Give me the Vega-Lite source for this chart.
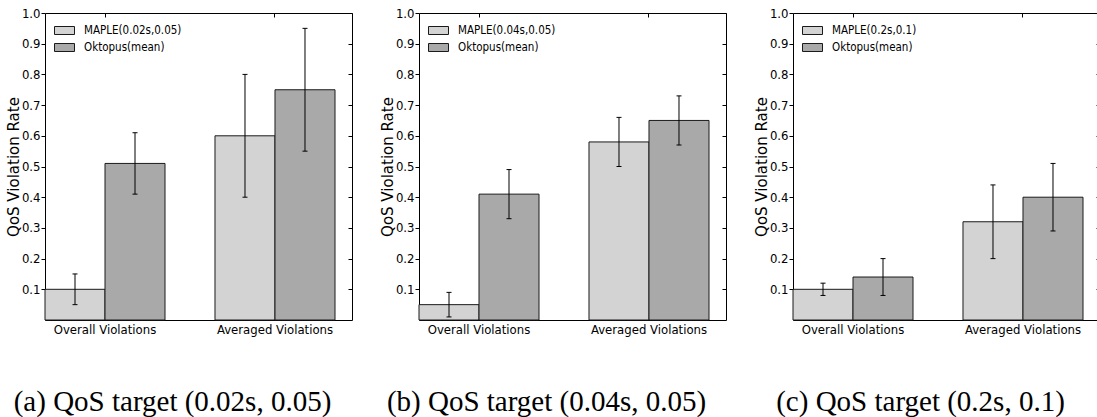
{
  "$schema": "https://vega.github.io/schema/vega-lite/v6.json",
  "padding": {"left": 5, "top": 6, "right": 0, "bottom": 0},
  "background": "white",
  "config": {
    "view": {"stroke": "#000", "strokeWidth": 1},
    "font": "DejaVu Sans Condensed",
    "axis": {"grid": false, "domain": false, "labelColor": "#000", "tickColor": "#000", "titleColor": "#000", "labelFont": "DejaVu Sans Condensed", "titleFont": "DejaVu Sans", "titleFontWeight": "normal"}
  },
  "datasets": {
    "bars": [
      {"panel": "a", "group": "Overall Violations", "series": "MAPLE(0.02s,0.05)", "value": 0.10, "lo": 0.05, "hi": 0.15},
      {"panel": "a", "group": "Overall Violations", "series": "Oktopus(mean)", "value": 0.51, "lo": 0.41, "hi": 0.61},
      {"panel": "a", "group": "Averaged Violations", "series": "MAPLE(0.02s,0.05)", "value": 0.60, "lo": 0.40, "hi": 0.80},
      {"panel": "a", "group": "Averaged Violations", "series": "Oktopus(mean)", "value": 0.75, "lo": 0.55, "hi": 0.95},
      {"panel": "b", "group": "Overall Violations", "series": "MAPLE(0.04s,0.05)", "value": 0.05, "lo": 0.01, "hi": 0.09},
      {"panel": "b", "group": "Overall Violations", "series": "Oktopus(mean)", "value": 0.41, "lo": 0.33, "hi": 0.49},
      {"panel": "b", "group": "Averaged Violations", "series": "MAPLE(0.04s,0.05)", "value": 0.58, "lo": 0.50, "hi": 0.66},
      {"panel": "b", "group": "Averaged Violations", "series": "Oktopus(mean)", "value": 0.65, "lo": 0.57, "hi": 0.73},
      {"panel": "c", "group": "Overall Violations", "series": "MAPLE(0.2s,0.1)", "value": 0.10, "lo": 0.08, "hi": 0.12},
      {"panel": "c", "group": "Overall Violations", "series": "Oktopus(mean)", "value": 0.14, "lo": 0.08, "hi": 0.20},
      {"panel": "c", "group": "Averaged Violations", "series": "MAPLE(0.2s,0.1)", "value": 0.32, "lo": 0.20, "hi": 0.44},
      {"panel": "c", "group": "Averaged Violations", "series": "Oktopus(mean)", "value": 0.40, "lo": 0.29, "hi": 0.51}
    ]
  },
  "data": {"name": "bars"},
  "spacing": 67,
  "bounds": "flush",
  "resolve": {"scale": {"color": "independent", "xOffset": "independent"}},
  "hconcat": [
    {
      "width": 307, "height": 307,
      "title": {"text": "(a) QoS target (0.02s, 0.05)", "orient": "bottom", "anchor": "middle", "dx": -26, "offset": 75, "baseline": "alphabetic", "font": "Liberation Serif", "fontSize": 29, "fontWeight": "normal", "color": "#000"},
      "transform": [{"filter": "datum.panel === 'a'"}],
      "encoding": {
        "x": {"field": "group", "type": "nominal", "sort": ["Overall Violations", "Averaged Violations"], "scale": {"paddingInner": 0.294, "paddingOuter": 0.05, "align": 0}, "axis": null},
        "xOffset": {"field": "series", "type": "nominal", "scale": {"paddingInner": 0, "paddingOuter": 0}}
      },
      "layer": [
        {
          "mark": {"type": "bar", "stroke": "#1a1a1a", "strokeWidth": 1, "opacity": 1},
          "encoding": {
            "x": {"field": "group", "type": "nominal", "sort": ["Overall Violations", "Averaged Violations"], "axis": {"orient": "bottom", "title": null, "labelAngle": 0, "ticks": false, "labelPadding": 3, "labelFontSize": 13}},
            "y": {"field": "value", "type": "quantitative", "scale": {"domain": [0, 1], "nice": false, "zero": true}, "axis": {"orient": "left", "values": [0.1, 0.2, 0.3, 0.4, 0.5, 0.6, 0.7, 0.8, 0.9, 1.0], "format": ".1f", "tickSize": 4, "labelPadding": 1, "labelFontSize": 13, "title": "QoS Violation Rate", "titleFontSize": 15, "titlePadding": 0}},
            "color": {"field": "series", "type": "nominal", "scale": {"range": ["#d3d3d3", "#a9a9a9"]}, "legend": {"orient": "none", "legendX": 9, "legendY": 7, "title": null, "symbolType": "M-1,-0.4H1V0.4H-1Z", "symbolSize": 400, "symbolStrokeColor": "#1a1a1a", "symbolStrokeWidth": 1, "symbolOpacity": 1, "labelFont": "DejaVu Sans Condensed", "labelFontSize": 11.5, "labelColor": "#000", "labelOffset": 9, "rowPadding": 0}}
          }
        },
        {
          "mark": {"type": "rule", "color": "#000", "strokeWidth": 1},
          "encoding": {
            "x": {"field": "group", "type": "nominal", "sort": ["Overall Violations", "Averaged Violations"], "axis": {"orient": "top", "title": null, "labels": false, "tickSize": -4}},
            "y": {"field": "lo", "type": "quantitative", "axis": {"orient": "right", "title": null, "labels": false, "tickSize": -4, "values": [0.1, 0.2, 0.3, 0.4, 0.5, 0.6, 0.7, 0.8, 0.9, 1.0]}},
            "y2": {"field": "hi"}
          }
        },
        {
          "transform": [{"fold": ["lo", "hi"], "as": ["end", "ev"]}],
          "mark": {"type": "tick", "color": "#000", "size": 5, "thickness": 1, "orient": "horizontal", "opacity": 1},
          "encoding": {
            "y": {"field": "ev", "type": "quantitative", "axis": null}
          }
        }
      ],
      "resolve": {"axis": {"x": "independent", "y": "independent"}}
    },
    {
      "width": 307, "height": 307,
      "title": {"text": "(b) QoS target (0.04s, 0.05)", "orient": "bottom", "anchor": "middle", "dx": -26, "offset": 75, "baseline": "alphabetic", "font": "Liberation Serif", "fontSize": 29, "fontWeight": "normal", "color": "#000"},
      "transform": [{"filter": "datum.panel === 'b'"}],
      "encoding": {
        "x": {"field": "group", "type": "nominal", "sort": ["Overall Violations", "Averaged Violations"], "scale": {"paddingInner": 0.294, "paddingOuter": 0.05, "align": 0}, "axis": null},
        "xOffset": {"field": "series", "type": "nominal", "scale": {"paddingInner": 0, "paddingOuter": 0}}
      },
      "layer": [
        {
          "mark": {"type": "bar", "stroke": "#1a1a1a", "strokeWidth": 1, "opacity": 1},
          "encoding": {
            "x": {"field": "group", "type": "nominal", "sort": ["Overall Violations", "Averaged Violations"], "axis": {"orient": "bottom", "title": null, "labelAngle": 0, "ticks": false, "labelPadding": 3, "labelFontSize": 13}},
            "y": {"field": "value", "type": "quantitative", "scale": {"domain": [0, 1], "nice": false, "zero": true}, "axis": {"orient": "left", "values": [0.1, 0.2, 0.3, 0.4, 0.5, 0.6, 0.7, 0.8, 0.9, 1.0], "format": ".1f", "tickSize": 4, "labelPadding": 1, "labelFontSize": 13, "title": "QoS  Violation  Rate", "titleFontSize": 15, "titlePadding": 0}},
            "color": {"field": "series", "type": "nominal", "scale": {"range": ["#d3d3d3", "#a9a9a9"]}, "legend": {"orient": "none", "legendX": 9, "legendY": 7, "title": null, "symbolType": "M-1,-0.4H1V0.4H-1Z", "symbolSize": 400, "symbolStrokeColor": "#1a1a1a", "symbolStrokeWidth": 1, "symbolOpacity": 1, "labelFont": "DejaVu Sans Condensed", "labelFontSize": 11.5, "labelColor": "#000", "labelOffset": 9, "rowPadding": 0}}
          }
        },
        {
          "mark": {"type": "rule", "color": "#000", "strokeWidth": 1},
          "encoding": {
            "x": {"field": "group", "type": "nominal", "sort": ["Overall Violations", "Averaged Violations"], "axis": {"orient": "top", "title": null, "labels": false, "tickSize": -4}},
            "y": {"field": "lo", "type": "quantitative", "axis": {"orient": "right", "title": null, "labels": false, "tickSize": -4, "values": [0.1, 0.2, 0.3, 0.4, 0.5, 0.6, 0.7, 0.8, 0.9, 1.0]}},
            "y2": {"field": "hi"}
          }
        },
        {
          "transform": [{"fold": ["lo", "hi"], "as": ["end", "ev"]}],
          "mark": {"type": "tick", "color": "#000", "size": 5, "thickness": 1, "orient": "horizontal", "opacity": 1},
          "encoding": {
            "y": {"field": "ev", "type": "quantitative", "axis": null}
          }
        }
      ],
      "resolve": {"axis": {"x": "independent", "y": "independent"}}
    },
    {
      "width": 307, "height": 307,
      "title": {"text": "(c) QoS target (0.2s, 0.1)", "orient": "bottom", "anchor": "middle", "dx": -26, "offset": 75, "baseline": "alphabetic", "font": "Liberation Serif", "fontSize": 29, "fontWeight": "normal", "color": "#000"},
      "transform": [{"filter": "datum.panel === 'c'"}],
      "encoding": {
        "x": {"field": "group", "type": "nominal", "sort": ["Overall Violations", "Averaged Violations"], "scale": {"paddingInner": 0.294, "paddingOuter": 0.05, "align": 0}, "axis": null},
        "xOffset": {"field": "series", "type": "nominal", "scale": {"paddingInner": 0, "paddingOuter": 0}}
      },
      "layer": [
        {
          "mark": {"type": "bar", "stroke": "#1a1a1a", "strokeWidth": 1, "opacity": 1},
          "encoding": {
            "x": {"field": "group", "type": "nominal", "sort": ["Overall Violations", "Averaged Violations"], "axis": {"orient": "bottom", "title": null, "labelAngle": 0, "ticks": false, "labelPadding": 3, "labelFontSize": 13}},
            "y": {"field": "value", "type": "quantitative", "scale": {"domain": [0, 1], "nice": false, "zero": true}, "axis": {"orient": "left", "values": [0.1, 0.2, 0.3, 0.4, 0.5, 0.6, 0.7, 0.8, 0.9, 1.0], "format": ".1f", "tickSize": 4, "labelPadding": 1, "labelFontSize": 13, "title": "QoS  Violation  Rate", "titleFontSize": 15, "titlePadding": 0}},
            "color": {"field": "series", "type": "nominal", "scale": {"range": ["#d3d3d3", "#a9a9a9"]}, "legend": {"orient": "none", "legendX": 9, "legendY": 7, "title": null, "symbolType": "M-1,-0.4H1V0.4H-1Z", "symbolSize": 400, "symbolStrokeColor": "#1a1a1a", "symbolStrokeWidth": 1, "symbolOpacity": 1, "labelFont": "DejaVu Sans Condensed", "labelFontSize": 11.5, "labelColor": "#000", "labelOffset": 9, "rowPadding": 0}}
          }
        },
        {
          "mark": {"type": "rule", "color": "#000", "strokeWidth": 1},
          "encoding": {
            "x": {"field": "group", "type": "nominal", "sort": ["Overall Violations", "Averaged Violations"], "axis": {"orient": "top", "title": null, "labels": false, "tickSize": -4}},
            "y": {"field": "lo", "type": "quantitative", "axis": {"orient": "right", "title": null, "labels": false, "tickSize": -4, "values": [0.1, 0.2, 0.3, 0.4, 0.5, 0.6, 0.7, 0.8, 0.9, 1.0]}},
            "y2": {"field": "hi"}
          }
        },
        {
          "transform": [{"fold": ["lo", "hi"], "as": ["end", "ev"]}],
          "mark": {"type": "tick", "color": "#000", "size": 5, "thickness": 1, "orient": "horizontal", "opacity": 1},
          "encoding": {
            "y": {"field": "ev", "type": "quantitative", "axis": null}
          }
        }
      ],
      "resolve": {"axis": {"x": "independent", "y": "independent"}}
    }
  ]
}
